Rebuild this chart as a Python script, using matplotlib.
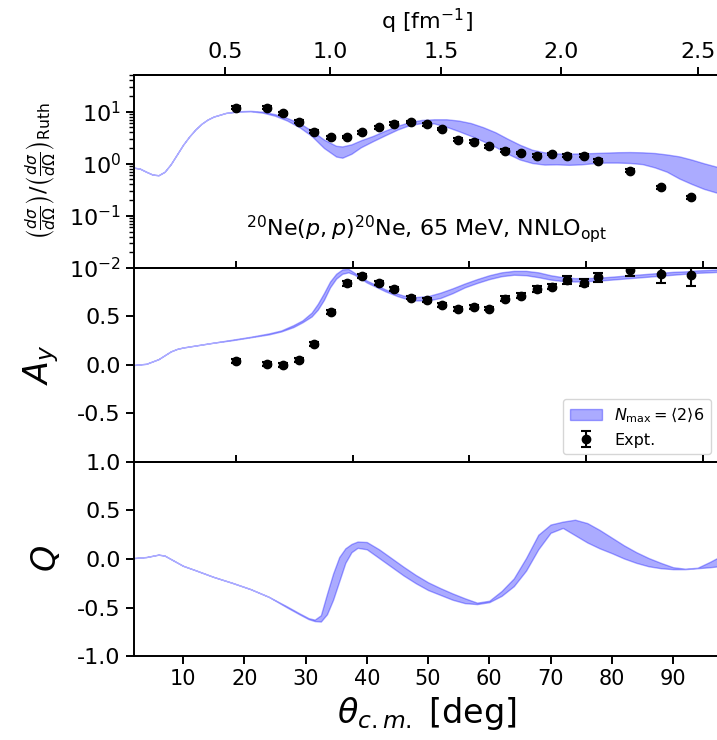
import numpy as np
import matplotlib.pyplot as plt

plt.rcParams['axes.unicode_minus'] = False
plt.rcParams['mathtext.fontset'] = 'dejavusans'

# --- experimental data (deg) ---
expt_theta = [18.7, 23.7, 26.3, 29.0, 31.4, 34.2, 36.7, 39.2, 42.0, 44.5, 47.2, 49.8, 52.2,
              54.9, 57.5, 60.0, 62.6, 65.2, 67.8, 70.3, 72.7, 75.4, 77.8, 82.9, 88.0, 92.9]
xs_expt = [11.9, 11.9, 9.3, 6.4, 4.1, 3.18, 3.24, 4.03, 5.02, 5.81, 6.26, 5.64, 4.67,
           2.87, 2.66, 2.14, 1.77, 1.60, 1.42, 1.53, 1.42, 1.42, 1.15, 0.74, 0.356, 0.229]
xs_err = [0.7, 0.7, 0.55, 0.4, 0.25, 0.2, 0.2, 0.25, 0.3, 0.35, 0.35, 0.3, 0.25,
          0.17, 0.16, 0.13, 0.1, 0.1, 0.09, 0.09, 0.09, 0.09, 0.07, 0.045, 0.022, 0.015]
ay_expt = [0.037, 0.010, 0.0, 0.054, 0.216, 0.545, 0.843, 0.921, 0.843, 0.781, 0.695, 0.668, 0.620,
           0.576, 0.602, 0.582, 0.684, 0.715, 0.787, 0.808, 0.877, 0.849, 0.904, 0.979, 0.94, 0.928]
ay_err = [0.02, 0.02, 0.02, 0.02, 0.02, 0.02, 0.025, 0.02, 0.02, 0.02, 0.02, 0.02, 0.02,
          0.02, 0.02, 0.02, 0.025, 0.025, 0.03, 0.03, 0.045, 0.04, 0.045, 0.06, 0.10, 0.11]

# --- theory band, cross section ratio ---
xs_theta = [2, 3, 4, 5, 6, 7, 8, 9, 10, 11, 12, 13, 14, 15, 17, 19, 21, 23, 25, 27, 29, 31, 33,
            35, 36, 37.5, 39, 41, 43, 45, 47, 49, 51, 53, 55, 57, 59, 61, 63, 65, 67, 69, 71,
            73, 75, 77, 79, 81, 83, 85, 87, 89, 91, 93, 95, 97.5]
xs_hi = [0.84, 0.80, 0.70, 0.62, 0.60, 0.70, 0.98, 1.5, 2.3, 3.3, 4.5, 5.8, 7.0, 8.0, 9.4, 10.1,
         10.3, 9.9, 8.9, 7.5, 6.0, 4.3, 2.9, 2.2, 2.14, 2.35, 2.8, 3.4, 4.3, 5.3, 6.3, 6.9, 7.1,
         7.1, 6.7, 6.0, 5.0, 4.0, 3.0, 2.3, 1.85, 1.65, 1.57, 1.56, 1.57, 1.6, 1.63, 1.66, 1.67,
         1.65, 1.6, 1.5, 1.38, 1.2, 1.02, 0.85]
xs_lo = [0.84, 0.80, 0.70, 0.62, 0.60, 0.70, 0.98, 1.5, 2.3, 3.3, 4.5, 5.8, 7.0, 8.0, 9.4, 10.0,
         10.1, 9.5, 8.3, 6.7, 5.0, 3.4, 2.0, 1.37, 1.30, 1.55, 2.05, 2.7, 3.5, 4.5, 5.5, 6.0, 5.9,
         5.1, 4.2, 3.4, 2.7, 2.1, 1.55, 1.2, 1.03, 0.96, 0.97, 0.95, 0.97, 1.02, 1.05, 1.05, 1.03,
         0.98, 0.85, 0.70, 0.52, 0.41, 0.33, 0.27]

# --- theory band, A_y ---
ay_theta = [2, 4, 6, 7, 8, 9, 10, 12, 15, 18, 21, 24, 26, 28, 29.5, 31, 32, 33, 34, 35, 36, 37,
            38, 39, 40, 41, 42, 43, 44, 45, 46, 48, 50, 52, 54, 56, 58, 60, 62, 64, 66, 68, 70,
            72, 74, 76, 78, 80, 82, 84, 86, 88, 90, 92, 94, 96, 97.5]
ay_hi = [0.0, 0.012, 0.06, 0.10, 0.14, 0.165, 0.18, 0.20, 0.23, 0.26, 0.29, 0.325, 0.355, 0.41,
         0.46, 0.54, 0.63, 0.74, 0.86, 0.94, 0.985, 0.99, 0.95, 0.91, 0.87, 0.84, 0.81, 0.78,
         0.755, 0.735, 0.715, 0.70, 0.71, 0.745, 0.79, 0.84, 0.885, 0.925, 0.955, 0.97, 0.97,
         0.955, 0.925, 0.905, 0.895, 0.895, 0.90, 0.91, 0.92, 0.93, 0.94, 0.95, 0.96, 0.965,
         0.975, 0.98, 0.985]
ay_lo = [0.0, 0.012, 0.06, 0.10, 0.14, 0.165, 0.18, 0.20, 0.23, 0.255, 0.285, 0.315, 0.345, 0.39,
         0.44, 0.50, 0.57, 0.67, 0.80, 0.89, 0.94, 0.955, 0.93, 0.89, 0.85, 0.82, 0.79, 0.76,
         0.735, 0.71, 0.69, 0.665, 0.665, 0.69, 0.74, 0.80, 0.845, 0.885, 0.915, 0.93, 0.925,
         0.905, 0.88, 0.865, 0.86, 0.865, 0.87, 0.88, 0.89, 0.90, 0.91, 0.92, 0.93, 0.94,
         0.95, 0.955, 0.96]

# --- theory band, Q ---
q_theta = [2, 4, 6, 7, 8, 10, 12, 15, 18, 21, 24, 27, 29, 30.5, 31.5, 32.5, 33.5, 34.5, 35.5,
           36.5, 37.5, 38.5, 40, 42, 44, 46, 48, 50, 52, 54, 56, 58, 60, 62, 64, 66, 68, 70,
           72, 74, 76, 78, 80, 82, 84, 86, 88, 90, 92, 94, 96, 97.5]
q_a = [0.01, 0.02, 0.045, 0.035, 0.0, -0.07, -0.115, -0.185, -0.245, -0.31, -0.39, -0.49, -0.56,
       -0.61, -0.625, -0.58, -0.36, -0.15, 0.02, 0.11, 0.155, 0.18, 0.175, 0.10, 0.01, -0.08,
       -0.165, -0.24, -0.30, -0.355, -0.405, -0.45, -0.43, -0.33, -0.20, 0.01, 0.25, 0.355,
       0.385, 0.405, 0.37, 0.30, 0.22, 0.14, 0.07, 0.01, -0.04, -0.085, -0.10, -0.09, -0.03, 0.02]
q_b = [0.01, 0.02, 0.045, 0.035, 0.0, -0.07, -0.115, -0.185, -0.245, -0.31, -0.39, -0.50, -0.57,
       -0.62, -0.64, -0.645, -0.57, -0.42, -0.23, -0.04, 0.07, 0.115, 0.10, 0.01, -0.08, -0.17,
       -0.25, -0.32, -0.37, -0.42, -0.455, -0.465, -0.445, -0.38, -0.28, -0.12, 0.10, 0.27,
       0.32, 0.245, 0.17, 0.11, 0.06, 0.005, -0.04, -0.075, -0.095, -0.105, -0.105, -0.095,
       -0.085, -0.075]

k_cm = 1.708  # c.m. momentum [fm^-1], 65 MeV p + 20Ne
twin_ticks = [18.65, 37.7, 56.75, 75.8, 94.85]
band_color = 'b'
band_alpha = 0.33


def theta_to_q(t):
    return 2 * k_cm * np.sin(np.radians(t) / 2)


def q_to_theta(q):
    return 2 * np.degrees(np.arcsin(np.clip(q / (2 * k_cm), -1, 1)))


fig = plt.figure(figsize=(7.17, 7.40), dpi=100)
left, width = 0.1869, 0.8159
ax1 = fig.add_axes([left, 0.6378, width, 0.2608])
ax2 = fig.add_axes([left, 0.3757, width, 0.2622], sharex=ax1)
ax3 = fig.add_axes([left, 0.1135, width, 0.2622], sharex=ax1)

eb_kw = dict(fmt='o', color='k', ms=6, capsize=3.5, capthick=1.5, elinewidth=1.5)

# top: cross section ratio
ax1.fill_between(xs_theta, xs_lo, xs_hi, color=band_color, alpha=band_alpha, lw=1)
ax1.errorbar(expt_theta, xs_expt, yerr=xs_err, **eb_kw)
ax1.set_yscale('log')
ax1.set_ylim(1e-2, 50)
ax1.set_ylabel(r'$\left(\frac{d\sigma}{d\Omega}\right)/\left(\frac{d\sigma}{d\Omega}\right)_{\rm Ruth}$',
               fontsize=16, labelpad=8)
ax1.text(0.5, 0.2, r'$^{20}$Ne$(p,p)^{20}$Ne, 65 MeV, NNLO$_{\rm opt}$',
         transform=ax1.transAxes, ha='center', va='center', fontsize=16)
secq = ax1.secondary_xaxis('top', functions=(theta_to_q, q_to_theta))
secq.set_xticks([0.5, 1.0, 1.5, 2.0, 2.5])
secq.set_xlabel(r'q [fm$^{-1}$]', fontsize=16, labelpad=9)
secq.tick_params(labelsize=16, length=6, width=1.4)
secq.spines['top'].set_linewidth(1.4)

# middle: A_y
band = ax2.fill_between(ay_theta, ay_lo, ay_hi, color=band_color, alpha=band_alpha, lw=1,
                        label=r'$N_{\rm max}=\langle 2\rangle 6$')
eb = ax2.errorbar(expt_theta, ay_expt, yerr=ay_err, label='Expt.', **eb_kw)
ax2.set_ylim(-1, 1)
ax2.set_yticks([-0.5, 0.0, 0.5])
ax2.set_ylabel(r'$A_y$', fontsize=24, labelpad=12)
ax2.legend(handles=[band, eb], loc='lower right', fontsize=11.5)

# bottom: Q
ax3.fill_between(q_theta, q_a, q_b, color=band_color, alpha=band_alpha, lw=1)
ax3.set_ylim(-1, 1)
ax3.set_yticks([-1.0, -0.5, 0.0, 0.5, 1.0])
ax3.set_ylabel(r'$Q$', fontsize=24, labelpad=10)
ax3.set_xlabel(r'$\theta_{c.m.}$ [deg]', fontsize=24)
ax3.set_xlim(2, 97.5)
ax3.set_xticks(range(10, 100, 10))

for ax in (ax1, ax2, ax3):
    for sp in ax.spines.values():
        sp.set_linewidth(1.4)
    ax.tick_params(axis='y', labelsize=16, length=6, width=1.4)
    ax.tick_params(axis='y', which='minor', length=3.5, width=1.0)
    ax.tick_params(axis='x', labelsize=15, length=6, width=1.4)

for ax in (ax1, ax2):
    ax.tick_params(axis='x', which='both', bottom=False, labelbottom=False)

for ax in (ax2, ax3):
    top = ax.secondary_xaxis('top')
    top.set_xticks(twin_ticks)
    top.set_xticklabels([])
    top.tick_params(length=5, width=1.4)
    top.spines['top'].set_linewidth(1.4)

fig.savefig('out.png', dpi=100)
